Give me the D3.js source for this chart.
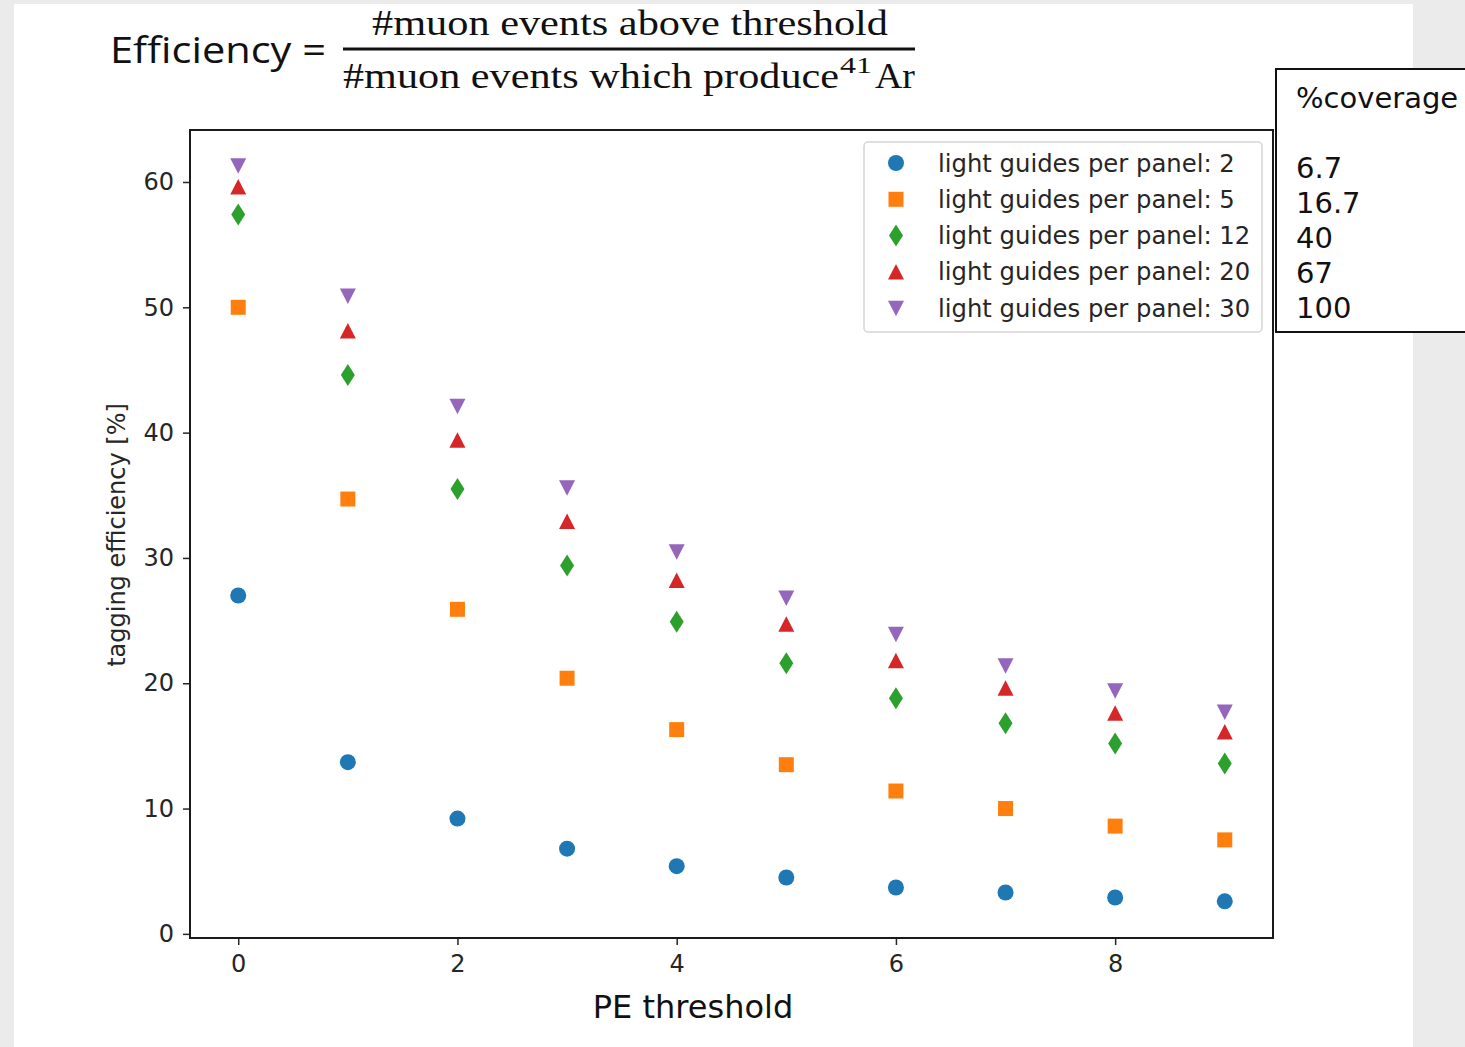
<!DOCTYPE html>
<html>
<head>
<meta charset="utf-8">
<style>
  body { margin: 0; background: #ebebeb; }
  svg { display: block; }
  .tick text { font-family: "DejaVu Sans", sans-serif; font-size: 24px; fill: #262626; }
  .tick line { stroke: #262626; stroke-width: 1.5; }
</style>
</head>
<body>
<svg id="chart"></svg>
<script src="https://cdn.jsdelivr.net/npm/d3@7"></script>
<script>
// data
let thresholds = [0, 1, 2, 3, 4, 5, 6, 7, 8, 9];
let guides2  = [27.0, 13.7, 9.2, 6.8, 5.4, 4.5, 3.7, 3.3, 2.9, 2.6];
let guides5  = [50.0, 34.7, 25.9, 20.4, 16.3, 13.5, 11.4, 10.0, 8.6, 7.5];
let guides12 = [57.4, 44.6, 35.5, 29.4, 24.9, 21.6, 18.8, 16.8, 15.2, 13.6];
let guides20 = [59.6, 48.1, 39.4, 32.9, 28.2, 24.7, 21.8, 19.6, 17.6, 16.1];
let guides30 = [61.3, 50.9, 42.1, 35.6, 30.5, 26.8, 23.9, 21.4, 19.4, 17.7];
let seriesNames = ["light guides per panel: 2", "light guides per panel: 5",
                   "light guides per panel: 12", "light guides per panel: 20",
                   "light guides per panel: 30"];
let coverage = ["6.7", "16.7", "40", "67", "100"];
let yTicks = [0, 10, 20, 30, 40, 50, 60];
let xTicks = [0, 2, 4, 6, 8];

let series = [
  { name: seriesNames[0], values: guides2,  color: "#1f77b4", shape: "circle" },
  { name: seriesNames[1], values: guides5,  color: "#ff7f0e", shape: "square" },
  { name: seriesNames[2], values: guides12, color: "#2ca02c", shape: "diamond" },
  { name: seriesNames[3], values: guides20, color: "#d62728", shape: "up" },
  { name: seriesNames[4], values: guides30, color: "#9467bd", shape: "down" }
];

let width = 1465, height = 1047;
let svg = d3.select("#chart").attr("width", width).attr("height", height);

// slide-ish background: grey edges, white panel
svg.append("rect").attr("width", width).attr("height", height).attr("fill", "#ebebeb");
svg.append("rect").attr("x", 14).attr("y", 4).attr("width", 1399).attr("height", height - 4).attr("fill", "#fff");

let plot = { left: 190, right: 1273, top: 130, bottom: 938 };

let x = d3.scaleLinear().domain([-0.44, 9.44]).range([plot.left, plot.right]);
let y = d3.scaleLinear().domain([-0.33, 64.15]).range([plot.bottom, plot.top]);

function markerPath(shape) {
  switch (shape) {
    case "circle":  return "M8,0A8,8 0 1,1 -8,0A8,8 0 1,1 8,0Z";
    case "square":  return "M-7.5,-7.5H7.5V7.5H-7.5Z";
    case "diamond": return "M0,-11L7,0L0,11L-7,0Z";
    case "up":      return "M0,-8L8,7.5L-8,7.5Z";
    case "down":    return "M0,8L8,-7.5L-8,-7.5Z";
  }
}

// axes
svg.append("g")
  .attr("transform", "translate(" + plot.left + ",0)")
  .call(d3.axisLeft(y).tickValues(yTicks).tickSize(7).tickPadding(9))
  .call(g => g.select(".domain").remove());

svg.append("g")
  .attr("transform", "translate(0," + plot.bottom + ")")
  .call(d3.axisBottom(x).tickValues(xTicks).tickSize(7).tickPadding(10))
  .call(g => g.select(".domain").remove());

// points
series.forEach(s => {
  svg.append("g")
    .selectAll("path")
    .data(s.values)
    .enter()
    .append("path")
      .attr("d", markerPath(s.shape))
      .attr("transform", (d, i) => "translate(" + x(thresholds[i]) + "," + y(d) + ")")
      .attr("fill", s.color);
});

// frame
svg.append("rect")
  .attr("x", plot.left).attr("y", plot.top)
  .attr("width", plot.right - plot.left).attr("height", plot.bottom - plot.top)
  .attr("fill", "none").attr("stroke", "#1a1a1a").attr("stroke-width", 2);

// axis labels
svg.append("text")
  .attr("x", 693).attr("y", 1018)
  .attr("text-anchor", "middle")
  .style("font-family", "DejaVu Sans, sans-serif").style("font-size", "32px").attr("fill", "#111")
  .text("PE threshold");

svg.append("text")
  .attr("transform", "translate(125,535) rotate(-90)")
  .attr("text-anchor", "middle")
  .style("font-family", "DejaVu Sans, sans-serif").style("font-size", "24px").attr("fill", "#262626")
  .text("tagging efficiency [%]");

// legend
let legend = svg.append("g");
legend.append("rect")
  .attr("x", 864).attr("y", 142).attr("width", 398).attr("height", 190)
  .attr("rx", 4).attr("fill", "#fff").attr("stroke", "#d5d5d5").attr("stroke-width", 1.5);

let rows = legend.selectAll("g.row")
  .data(series)
  .enter()
  .append("g")
    .attr("transform", (d, i) => "translate(0," + (163 + i * 36.3) + ")");
rows.append("path")
  .attr("d", d => markerPath(d.shape))
  .attr("transform", "translate(896,0)")
  .attr("fill", d => d.color);
rows.append("text")
  .attr("x", 938).attr("dy", "0.35em")
  .style("font-family", "DejaVu Sans, sans-serif").style("font-size", "24.3px").attr("fill", "#262626")
  .text(d => d.name);

// coverage box
let cov = svg.append("g");
cov.append("rect")
  .attr("x", 1276).attr("y", 69).attr("width", 220).attr("height", 263)
  .attr("fill", "#fff").attr("stroke", "#111").attr("stroke-width", 2);
cov.append("text")
  .attr("x", 1296).attr("y", 108)
  .style("font-family", "DejaVu Sans, sans-serif").style("font-size", "29px").attr("fill", "#111")
  .text("%coverage");
cov.selectAll("text.val")
  .data(coverage)
  .enter()
  .append("text")
    .attr("class", "val")
    .attr("x", 1296).attr("y", (d, i) => 178 + i * 35)
    .style("font-family", "DejaVu Sans, sans-serif").style("font-size", "29px").attr("fill", "#111")
    .text(d => d);

// efficiency formula
let eq = svg.append("g");
eq.append("text")
  .attr("x", 110).attr("y", 63)
  .attr("textLength", 216).attr("lengthAdjust", "spacingAndGlyphs")
  .style("font-family", "Open Sans, sans-serif").style("font-size", "37px").attr("fill", "#111")
  .text("Efficiency =");
eq.append("text")
  .attr("x", 372).attr("y", 35)
  .attr("textLength", 516).attr("lengthAdjust", "spacingAndGlyphs")
  .style("font-family", "Liberation Serif, serif").style("font-size", "36px").attr("fill", "#111")
  .text("#muon events above threshold");
eq.append("line")
  .attr("x1", 343).attr("x2", 915).attr("y1", 49).attr("y2", 49)
  .attr("stroke", "#111").attr("stroke-width", 3);
let den = eq.append("text")
  .attr("y", 88)
  .style("font-family", "Liberation Serif, serif").style("font-size", "36px").attr("fill", "#111");
den.append("tspan").attr("x", 343).attr("textLength", 496).attr("lengthAdjust", "spacingAndGlyphs")
  .text("#muon events which produce");
den.append("tspan").attr("x", 840).attr("dy", -15).style("font-size", "24px")
  .attr("textLength", 32).attr("lengthAdjust", "spacingAndGlyphs").text("41");
den.append("tspan").attr("x", 875).attr("dy", 15)
  .attr("textLength", 40).attr("lengthAdjust", "spacingAndGlyphs").text("Ar");
</script>
</body>
</html>
